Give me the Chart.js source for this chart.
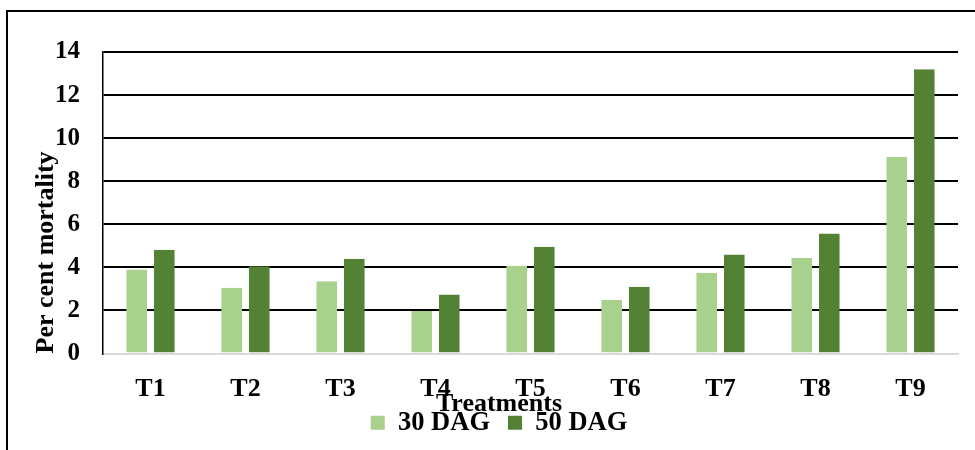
<!DOCTYPE html>
<html>
<head>
<meta charset="utf-8">
<script src="https://cdn.jsdelivr.net/npm/chart.js@4"></script>
<style>
  html, body { margin: 0; padding: 0; background: #fff; }
  #wrap { position: relative; width: 975px; height: 450px; }
  #frame { position: absolute; left: 6px; top: 10px; right: 0; bottom: 0; border-top: 2px solid #000; border-left: 2px solid #000; pointer-events: none; }
  canvas { position: absolute; left: 0; top: 0; }
</style>
</head>
<body>
<div id="wrap">
  <canvas id="c" width="975" height="450"></canvas>
  <div id="frame"></div>
</div>
<script>
const categories = ['T1', 'T2', 'T3', 'T4', 'T5', 'T6', 'T7', 'T8', 'T9'];
const dag30 = [3.9, 3.05, 3.35, 1.97, 4.08, 2.5, 3.75, 4.43, 9.12];
const dag50 = [4.82, 4.05, 4.4, 2.74, 4.96, 3.1, 4.6, 5.57, 13.2];
const seriesNames = ['30 DAG', '50 DAG'];
const yTicks = [0, 2, 4, 6, 8, 10, 12, 14];

const FONT = "'Liberation Serif', 'Times New Roman', serif";
const barBorder = { left: 3.5, right: 3.5, top: 0, bottom: 0 };

new Chart(document.getElementById('c'), {
  type: 'bar',
  data: {
    labels: categories,
    datasets: [
      { label: seriesNames[0], data: dag30, backgroundColor: '#A9D18E', borderColor: 'rgba(0,0,0,0)', borderWidth: barBorder, categoryPercentage: 0.58, barPercentage: 1 },
      { label: seriesNames[1], data: dag50, backgroundColor: '#548235', borderColor: 'rgba(0,0,0,0)', borderWidth: barBorder, categoryPercentage: 0.58, barPercentage: 1 }
    ]
  },
  options: {
    responsive: false,
    animation: false,
    layout: { padding: { left: 40, right: 17, top: 52, bottom: -4 } },
    scales: {
      x: {
        offset: true,
        grid: {
          display: true,
          offset: true,
          drawTicks: false,
          lineWidth: 2,
          color: (ctx) => ctx.index === categories.length ? '#000' : 'rgba(0,0,0,0)'
        },
        border: { display: true, color: '#d9d9d9', width: 2 },
        ticks: { color: '#000', padding: 20, font: { family: FONT, size: 26, weight: 'bold' } },
        afterFit: (s) => { s.height = 46; }
      },
      y: {
        min: 0,
        max: 14,
        afterBuildTicks: (s) => { s.ticks = yTicks.map(v => ({ value: v })); },
        grid: {
          drawTicks: false,
          lineWidth: 2,
          color: (ctx) => (ctx.tick && ctx.tick.value === 0) ? 'rgba(0,0,0,0)' : '#000'
        },
        border: { display: true, color: '#000', width: 1.5 },
        ticks: { color: '#000', padding: 23, font: { family: FONT, size: 25, weight: 'bold' } },
        title: {
          display: true,
          text: 'Per cent mortality',
          align: 'start',
          color: '#000',
          padding: { top: -7, bottom: 0 },
          font: { family: FONT, size: 26, weight: 'bold', lineHeight: 1 }
        },
        afterFit: (s) => { s.width = 63; }
      }
    },
    plugins: {
      title: {
        display: true,
        position: 'bottom',
        text: 'Treatments',
        weight: 500,
        color: '#000',
        padding: { top: -8, bottom: -26 },
        font: { family: FONT, size: 26, weight: 'bold', lineHeight: 1 }
      },
      legend: {
        position: 'bottom',
        labels: {
          color: '#000',
          boxWidth: 14,
          boxHeight: 14,
          padding: 18,
          font: { family: FONT, size: 26.5, weight: 'bold' }
        }
      },
      tooltip: { enabled: false }
    }
  }
});
</script>
</body>
</html>
